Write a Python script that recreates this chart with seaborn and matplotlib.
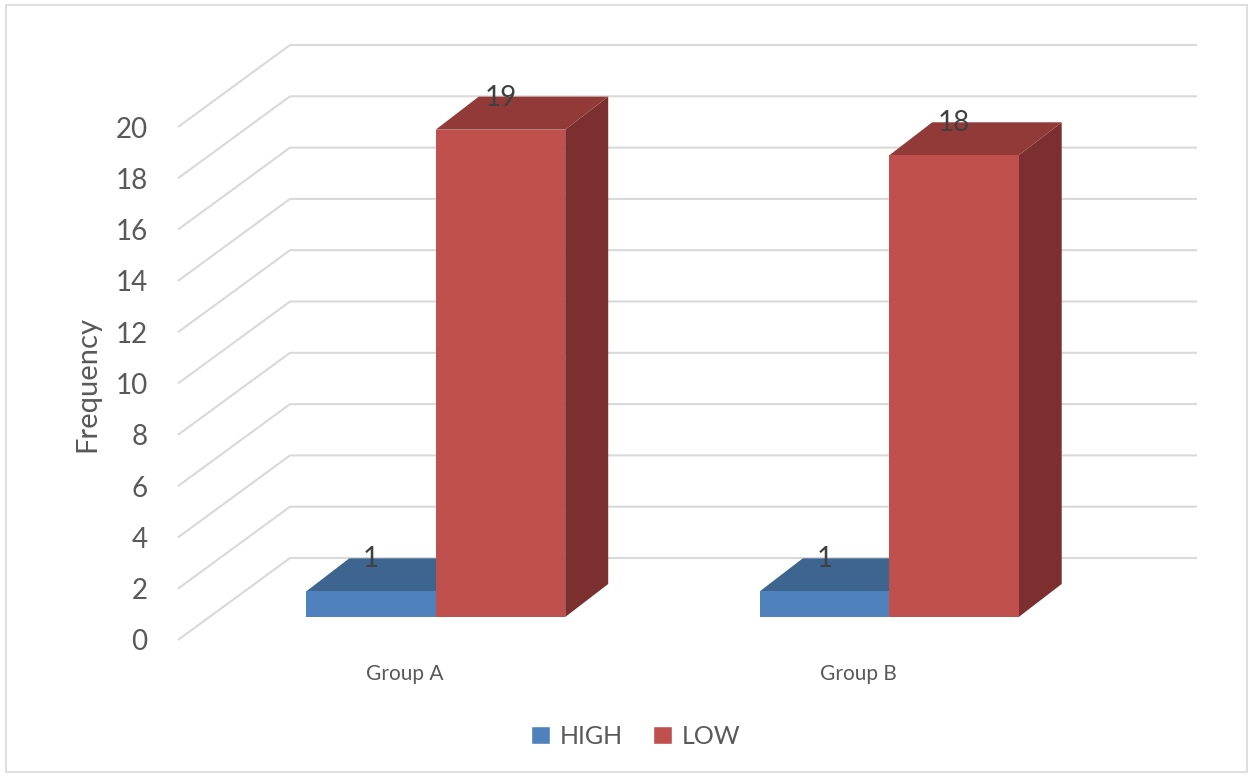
import matplotlib
matplotlib.use("Agg")
import matplotlib.pyplot as plt
from matplotlib.patches import Polygon, Rectangle
import pandas as pd
import seaborn as sns

# Data
groups = ["Group A", "Group B"]
levels = ["HIGH", "LOW"]
high_counts = [1, 1]
low_counts = [19, 18]
y_ticks = list(range(0, 21, 2))

front_colors = {"HIGH": "#4F81BD", "LOW": "#C0504D"}
top_colors = {"HIGH": "#3D6590", "LOW": "#923A38"}
side_colors = {"HIGH": "#2F4F73", "LOW": "#7B2F2E"}
grid_color = "#D9D9D9"
text_color = "#595959"
label_color = "#404040"

df = pd.DataFrame({
    "group": groups * 2,
    "level": [levels[0]] * len(groups) + [levels[1]] * len(groups),
    "count": high_counts + low_counts,
})

sns.set_theme(style="white")
plt.rcParams["font.family"] = ["Lato", "DejaVu Sans"]

W, H = 1253, 776
fig = plt.figure(figsize=(W / 100, H / 100), dpi=100)

# Wall / floor axes (front edge of the floor)
ax = fig.add_axes([178 / W, (H - 640) / H, 907 / W, 513 / H])
ax.set_xlim(-0.5, 1.5)
ax.set_ylim(0, 20)
for s in ax.spines.values():
    s.set_visible(False)
ax.patch.set_alpha(0)

# oblique depth of the back wall, in data units
DX, DY = 0.247, 3.197
for v in y_ticks:
    ax.plot([-0.5, -0.5 + DX, 1.5 + DX], [v, v + DY, v + DY],
            color=grid_color, lw=1.5, clip_on=False, zorder=0,
            solid_capstyle="butt")

ax.set_yticks(y_ticks)
ax.set_yticklabels([str(v) for v in y_ticks], fontsize=20, color=text_color)
ax.set_xticks(range(len(groups)))
ax.set_xticklabels(groups, fontsize=15, color=text_color)
ax.tick_params(axis="y", length=0, pad=22)
ax.tick_params(axis="x", length=0, pad=17)
ax.set_ylabel("Frequency", fontsize=21, color=text_color, labelpad=11)

# Bar axes: plane of the bar front faces, shifted into the floor depth
ax2 = fig.add_axes([209 / W, (H - 617) / H, 907 / W, 513 / H])
sns.barplot(data=df, x="group", y="count", hue="level", hue_order=levels,
            palette=front_colors, width=0.571, saturation=1, ax=ax2,
            legend=False)
ax2.set_xlim(-0.5, 1.5)
ax2.set_ylim(0, 20)
ax2.axis("off")
ax2.patch.set_alpha(0)

# oblique depth of each bar, in data units
ddx, ddy = 0.0948, 1.287
bars = sorted(ax2.patches, key=lambda p: p.get_x())

z = 2
for p in bars:
    x, w, h = p.get_x(), p.get_width(), p.get_height()
    # identify series by face colour
    fc = matplotlib.colors.to_hex(p.get_facecolor())
    lvl = "HIGH" if fc.lower() == front_colors["HIGH"].lower() else "LOW"
    side = Polygon([(x + w, 0), (x + w + ddx, ddy), (x + w + ddx, h + ddy), (x + w, h)],
                   closed=True, facecolor=side_colors[lvl], edgecolor="none",
                   zorder=z, clip_on=False)
    top = Polygon([(x, h), (x + ddx, h + ddy), (x + w + ddx, h + ddy), (x + w, h)],
                  closed=True, facecolor=top_colors[lvl], edgecolor="none",
                  zorder=z + 0.1, clip_on=False)
    ax2.add_patch(side)
    ax2.add_patch(top)
    p.set_zorder(z + 0.2)
    p.set_edgecolor("none")
    p.set_clip_on(False)
    ax2.annotate(f"{h:g}", (x + w / 2, h), xytext=(0, 23), textcoords="offset points",
                 ha="center", va="center", fontsize=20, color=label_color,
                 zorder=z + 0.3, annotation_clip=False)
    z += 1

# Legend
handles = [Rectangle((0, 0), 1, 1, facecolor=front_colors[l]) for l in levels]
fig.legend(handles, levels, loc="center", bbox_to_anchor=(636 / W, 1 - 736 / H),
           ncol=2, frameon=False, fontsize=18, labelcolor=text_color,
           handlelength=0.75, handleheight=0.75, handletextpad=0.4,
           columnspacing=1.2)

# Chart border
fig.patches.append(Rectangle((6 / W, 4 / H), (W - 12) / W, (H - 9) / H,
                             transform=fig.transFigure, fill=False,
                             edgecolor=grid_color, lw=1.2))

fig.savefig("out.png", dpi=100, facecolor="white")
